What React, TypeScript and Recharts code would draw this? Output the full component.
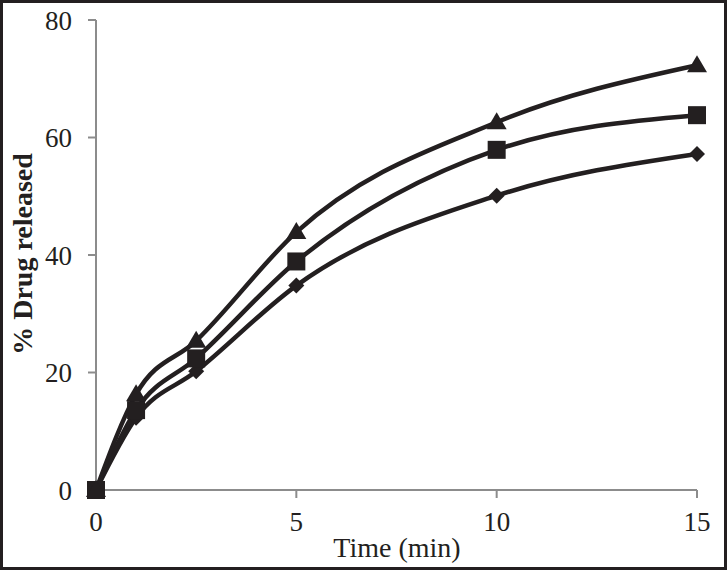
import React from 'react';
import { LineChart, Line, XAxis, YAxis, Label } from 'recharts';

const times = [0, 1, 2.5, 5, 10, 15];
const seriesDiamond = [0, 12.3, 20.2, 34.8, 50.1, 57.2];
const seriesSquare = [0, 13.6, 22.4, 38.9, 57.9, 63.8];
const seriesTriangle = [0, 16.3, 25.4, 43.9, 62.6, 72.3];
const xTicks = [0, 5, 10, 15];
const yTicks = [0, 20, 40, 60, 80];

const data = times.map((t, i) => ({
  t,
  d: seriesDiamond[i],
  s: seriesSquare[i],
  tr: seriesTriangle[i],
}));

const INK = '#231f20';
const AXIS = '#8c8c8c';
const FONT = 'Liberation Serif, Times New Roman, serif';

const Square = (p: any) => (
  <rect key={`s${p.index}`} x={p.cx - 9} y={p.cy - 9} width={18} height={18} fill={INK} />
);
const Diamond = (p: any) => (
  <polygon
    key={`d${p.index}`}
    points={`${p.cx},${p.cy - 8} ${p.cx + 8},${p.cy} ${p.cx},${p.cy + 8} ${p.cx - 8},${p.cy}`}
    fill={INK}
  />
);
const Triangle = (p: any) => (
  <polygon
    key={`t${p.index}`}
    points={`${p.cx},${p.cy - 10} ${p.cx + 10},${p.cy + 7} ${p.cx - 10},${p.cy + 7}`}
    fill={INK}
  />
);

const YLabel = () => (
  <text
    x={0}
    y={0}
    transform="translate(32,254) rotate(-90)"
    textAnchor="middle"
    fontFamily={FONT}
    fontWeight="bold"
    fontSize={28}
    fill={INK}
  >
    % Drug released
  </text>
);

const XLabel = () => (
  <text x={397} y={557} textAnchor="middle" fontFamily={FONT} fontSize={28} fill={INK}>
    Time (min)
  </text>
);

export default function App() {
  return (
    <div
      style={{
        position: 'absolute',
        left: 0,
        top: 0,
        width: 727,
        height: 570,
        background: '#fff',
        boxShadow: `inset 0 0 0 3px ${INK}`,
      }}
    >
      <LineChart width={727} height={570} data={data} margin={{ top: 20, right: 30, bottom: 0, left: 0 }}>
        <XAxis
          dataKey="t"
          type="number"
          domain={[0, 15]}
          ticks={xTicks}
          height={80}
          stroke={AXIS}
          strokeWidth={2}
          tickSize={8}
          tickMargin={14}
          tick={{ fill: INK, fontFamily: FONT, fontSize: 27 }}
        >
          <Label content={XLabel} />
        </XAxis>
        <YAxis
          type="number"
          domain={[0, 80]}
          ticks={yTicks}
          width={96}
          stroke={AXIS}
          strokeWidth={2}
          tickSize={8}
          tickMargin={16}
          tick={{ fill: INK, fontFamily: FONT, fontSize: 27 }}
        >
          <Label content={YLabel} />
        </YAxis>
        <Line dataKey="d" type="monotone" stroke={INK} strokeWidth={4.5} dot={Diamond} isAnimationActive={false} />
        <Line dataKey="s" type="monotone" stroke={INK} strokeWidth={4.5} dot={Square} isAnimationActive={false} />
        <Line dataKey="tr" type="monotone" stroke={INK} strokeWidth={4.5} dot={Triangle} isAnimationActive={false} />
      </LineChart>
    </div>
  );
}
